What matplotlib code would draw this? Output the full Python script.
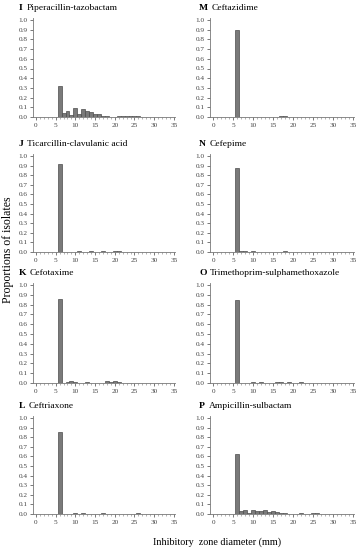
import numpy as np
import matplotlib
matplotlib.use("Agg")
import matplotlib.pyplot as plt
from matplotlib.ticker import MultipleLocator

plt.rcParams['font.family'] = ['Liberation Serif', 'DejaVu Serif']

# zone diameters (mm) and proportions
diam = np.arange(0, 36)

letters = ["I", "J", "K", "L", "M", "N", "O", "P"]
names = ["Piperacillin-tazobactam", "Ticarcillin-clavulanic acid", "Cefotaxime",
         "Ceftriaxone", "Ceftazidime", "Cefepime",
         "Trimethoprim-sulphamethoxazole", "Ampicillin-sulbactam"]

pip_taz = {6: 0.32, 7: 0.045, 8: 0.06, 9: 0.02, 10: 0.095, 11: 0.03, 12: 0.08, 13: 0.06,
           14: 0.05, 15: 0.03, 16: 0.035, 17: 0.015, 18: 0.01, 19: 0.005, 20: 0.005,
           21: 0.012, 22: 0.015, 23: 0.015, 24: 0.01, 25: 0.01, 26: 0.008, 27: 0.005}
tic_clav = {6: 0.92, 11: 0.006, 14: 0.006, 17: 0.006, 20: 0.006, 21: 0.006}
cefotax = {6: 0.86, 8: 0.01, 9: 0.02, 10: 0.01, 13: 0.01, 18: 0.02, 19: 0.01,
           20: 0.02, 21: 0.01}
ceftriax = {6: 0.85, 10: 0.01, 12: 0.01, 13: 0.005, 17: 0.01, 19: 0.005, 20: 0.005,
            26: 0.012}
ceftaz = {6: 0.90, 10: 0.005, 13: 0.005, 14: 0.005, 17: 0.012, 18: 0.012, 22: 0.005}
cefep = {6: 0.87, 7: 0.012, 8: 0.012, 10: 0.012, 15: 0.005, 16: 0.005, 18: 0.012}
tmp_smx = {6: 0.85, 10: 0.006, 12: 0.01, 15: 0.005, 16: 0.006, 17: 0.006, 19: 0.01,
           22: 0.01, 26: 0.005}
amp_sul = {6: 0.62, 7: 0.03, 8: 0.04, 9: 0.01, 10: 0.04, 11: 0.03, 12: 0.03, 13: 0.04,
           14: 0.02, 15: 0.03, 16: 0.02, 17: 0.006, 18: 0.006, 20: 0.005, 22: 0.01,
           25: 0.01, 26: 0.01}

series = [pip_taz, tic_clav, cefotax, ceftriax, ceftaz, cefep, tmp_smx, amp_sul]

fig = plt.figure(figsize=(3.62, 5.5), dpi=100)
W, H = 362.0, 550.0

# pixel layout: (left, right) per column, (top of 1.0, bottom 0.0) per row
cols = [(33, 175), (210, 354)]
rows = [(20, 117), (156, 252), (285, 383), (418, 514)]
title_x = [19, 199]

for i, (let, name, d) in enumerate(zip(letters, names, series)):
    c, r = divmod(i, 4)
    l, rr = cols[c]
    t, b = rows[r]
    top = t - 0.02 * (b - t)
    ax = fig.add_axes([l / W, 1 - b / H, (rr - l) / W, (b - top) / H])
    vals = np.array([d.get(x, 0.0) for x in diam])
    ax.bar(diam, vals, width=1.0, color="#7a7a7a", edgecolor="#4d4d4d", linewidth=0.5)
    ax.set_xlim(-0.76, 35.3)
    ax.set_ylim(0, 1.02)
    ax.xaxis.set_major_locator(MultipleLocator(5))
    ax.xaxis.set_minor_locator(MultipleLocator(1))
    ax.set_yticks(np.arange(0, 1.01, 0.1))
    ax.set_yticklabels(["%.1f" % v for v in np.arange(0, 1.01, 0.1)])
    ax.tick_params(labelsize=5.2, length=2, width=0.5, pad=2, colors="#444444")
    ax.tick_params(which="minor", length=1.5, width=0.4, colors="#777777")
    for s in ["top", "right"]:
        ax.spines[s].set_visible(False)
    for s in ["left", "bottom"]:
        ax.spines[s].set_linewidth(0.6)
        ax.spines[s].set_color("#777777")
    ty = 1 - (t - 12) / H
    tl = fig.text(title_x[c] / W, ty, let, fontsize=6.8, fontweight="bold",
                  va="center", ha="left")
    ax.annotate(name, xy=(1, 0.5), xycoords=tl, xytext=(2.6, 0),
                textcoords="offset points", va="center", ha="left", fontsize=6.8,
                annotation_clip=False)

fig.text(8 / W, 1 - 250 / H, "Proportions of isolates", rotation=90,
         ha="center", va="center", fontsize=8.5)
fig.text(217 / W, 1 - 542 / H, "Inhibitory  zone diameter (mm)",
         ha="center", va="center", fontsize=7.3)

fig.savefig("out.png", dpi=100)
